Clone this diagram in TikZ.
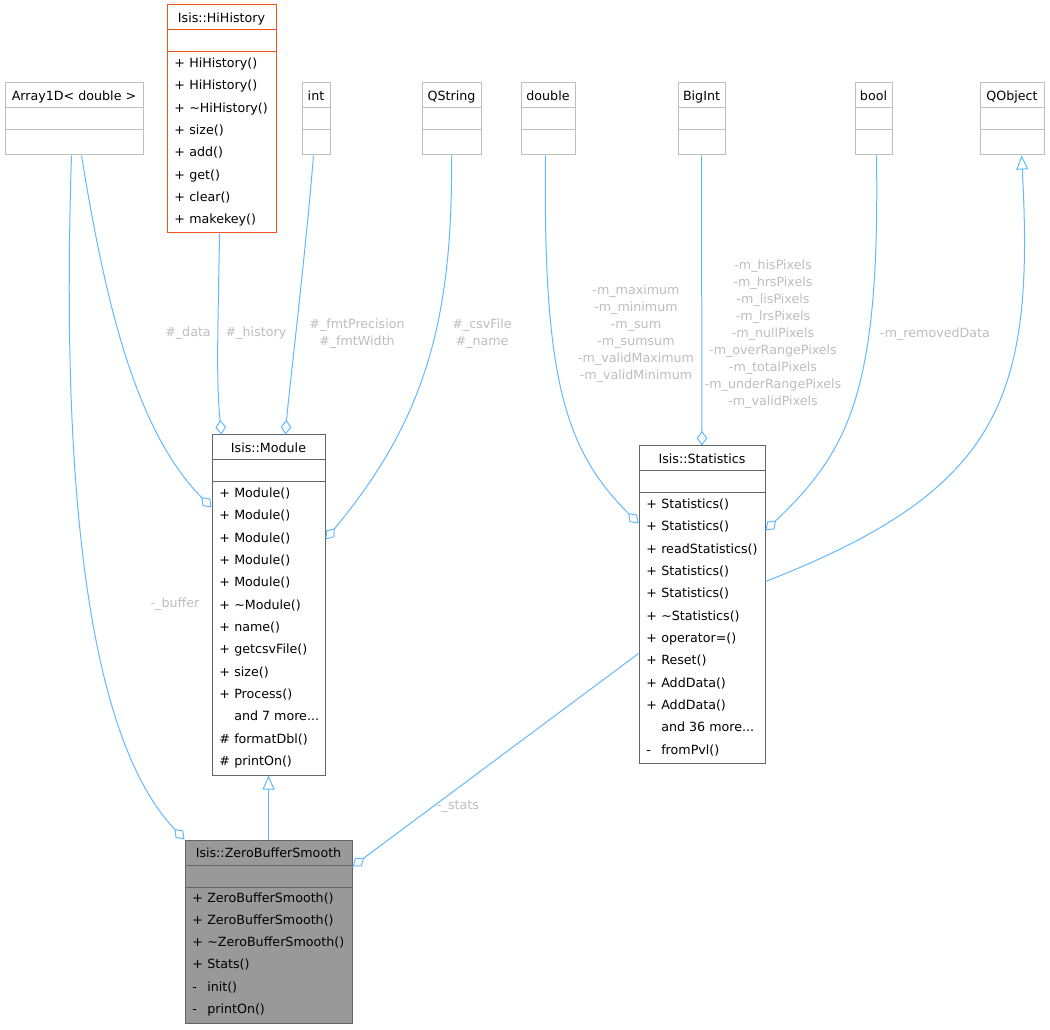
\documentclass[tikz,border=0pt]{standalone}
\usepackage{fontspec}
\setmainfont{DejaVu Sans}
\usetikzlibrary{arrows.meta,fit,calc}
\definecolor{edgeblue}{HTML}{63B8FF}
\definecolor{extgray}{HTML}{BFBFBF}
\definecolor{clsgray}{HTML}{666666}
\definecolor{hiorange}{HTML}{F4511E}
\definecolor{lblgray}{HTML}{BDBDBD}
\definecolor{zbsfill}{HTML}{999999}
\newcommand{\moredots}{...}
\newcommand{\umlbox}[7]{%
  \node[#2, fit={(#3,#4) (#5,#6)}] (#1) {};
  \draw[#2] (#3,#4+25) -- (#5,#4+25) (#3,#4+47) -- (#5,#4+47);
  \node[txt, anchor=base] (#1-title) at ({(#3+#5)/2},#4+17.5) {#7};
}
\newcommand{\umlrows}[4]{%
  \foreach \s/\t [count=\i from 0] in {#4} {
    \node[txt, anchor=base west] (#1-v\i) at (#2+7, #3+4.5+22.33*\i) {\s};
    \node[txt, anchor=base west] (#1-m\i) at (#2+22, #3+4.5+22.33*\i) {\t};
  }
}
\begin{document}
\begin{tikzpicture}[x=0.75pt,y=-0.75pt,
  txt/.style={inner sep=0pt, font=\fontsize{9.5}{11}\selectfont},
  lbl/.style={inner sep=0pt, align=center, text=lblgray, font=\fontsize{9.5}{12.75}\selectfont},
  ext/.style={draw=extgray, line width=0.75pt, inner sep=0pt, fill=white},
  cls/.style={draw=clsgray, line width=0.75pt, inner sep=0pt, fill=white},
  hist/.style={draw=hiorange, line width=0.75pt, inner sep=0pt, fill=white},
  self/.style={draw=clsgray, line width=0.75pt, inner sep=0pt, fill=zbsfill},
  agg/.style={draw=edgeblue, line width=0.75pt, -{Diamond[open, length=11pt, width=8pt]}},
  inh/.style={draw=edgeblue, line width=0.75pt, -{Triangle[open, length=10.5pt, width=9pt]}},
]
\useasboundingbox (0,0) rectangle (1050,1030);

\umlbox{arr}{ext}{5}{83}{143}{155}{Array1D< double >}
\umlbox{hih}{hist}{167}{5}{276}{233}{Isis::HiHistory}
\umlrows{hih}{167}{63}{+/HiHistory(), +/HiHistory(), +/\textasciitilde HiHistory(), +/size(), +/add(), +/get(), +/clear(), +/makekey()}
\umlbox{int}{ext}{302}{83}{330}{155}{int}
\umlbox{qstr}{ext}{422}{83}{481}{155}{QString}
\umlbox{dbl}{ext}{521}{83}{575}{155}{double}
\umlbox{bigint}{ext}{678}{83}{725}{155}{BigInt}
\umlbox{bool}{ext}{855}{83}{892}{155}{bool}
\umlbox{qobj}{ext}{980}{83}{1044}{155}{QObject}

\umlbox{mod}{cls}{212}{435}{325}{775}{Isis::Module}
\umlrows{mod}{212}{493}{+/Module(), +/Module(), +/Module(), +/Module(), +/Module(), +/\textasciitilde Module(), +/name(), +/getcsvFile(), +/size(), +/Process(), /and 7 more\moredots, \#/formatDbl(), \#/printOn()}

\umlbox{stat}{cls}{639}{446}{765}{763}{Isis::Statistics}
\umlrows{stat}{639}{504}{+/Statistics(), +/Statistics(), +/readStatistics(), +/Statistics(), +/Statistics(), +/\textasciitilde Statistics(), +/operator=(), +/Reset(), +/AddData(), +/AddData(), /and 36 more\moredots, -/fromPvl()}

\umlbox{zbs}{self}{185}{840}{352}{1023}{Isis::ZeroBufferSmooth}
\umlrows{zbs}{185}{897.5}{+/ZeroBufferSmooth(), +/ZeroBufferSmooth(), +/\textasciitilde ZeroBufferSmooth(), +/Stats(), -/init(), -/printOn()}

\draw[agg] ($(arr.south west)+(67,0)$) .. controls (62,450) and (80,730) .. (zbs.north west);
\draw[agg] ($(arr.south west)+(77,0)$) .. controls (105,300) and (135,430) .. ($(mod.north west)+(0,73)$);
\draw[agg] ($(hih.south west)+(53,0)$) .. controls (218,330) and (216,380) .. ($(mod.north west)+(10,0)$);
\draw[agg] ($(int.south west)+(12,0)$) .. controls (305,260) and (288,400) .. ($(mod.north west)+(74,0)$);
\draw[agg] ($(qstr.south west)+(30,0)$) .. controls (453,320) and (425,420) .. ($(mod.north east)+(0,105)$);
\draw[agg] ($(dbl.south west)+(25,0)$) .. controls (543,380) and (565,450) .. ($(stat.north west)+(0,78)$);
\draw[agg] (bigint.south) -- (stat.north);
\draw[agg] ($(bool.south west)+(22,0)$) .. controls (880,390) and (850,450) .. ($(stat.north east)+(0,85)$);
\draw[inh] ($(stat.north east)+(0,136)$) .. controls (1000,490) and (1035,400) .. ($(qobj.south west)+(42,0)$);
\draw[inh] (zbs.north) -- (mod.south);
\draw[agg] ($(stat.north west)+(0,208)$) -- ($(zbs.north east)+(0,27)$);

\node[lbl] (lbuf) at (175,604) {-\_buffer};
\node[lbl] (ldata) at (188,333) {\#\_data};
\node[lbl] (lhist) at (256,333) {\#\_history};
\node[lbl] (lfmt) at (357,334) {\#\_fmtPrecision\\\#\_fmtWidth};
\node[lbl] (lcsv) at (482,334) {\#\_csvFile\\\#\_name};
\node[lbl] (ldbl) at (636,334) {-m\_maximum\\-m\_minimum\\-m\_sum\\-m\_sumsum\\-m\_validMaximum\\-m\_validMinimum};
\node[lbl] (lbig) at (773,334) {-m\_hisPixels\\-m\_hrsPixels\\-m\_lisPixels\\-m\_lrsPixels\\-m\_nullPixels\\-m\_overRangePixels\\-m\_totalPixels\\-m\_underRangePixels\\-m\_validPixels};
\node[lbl] (lbool) at (935,334) {-m\_removedData};
\node[lbl] (lstats) at (458,807) {-\_stats};
\end{tikzpicture}
\end{document}
